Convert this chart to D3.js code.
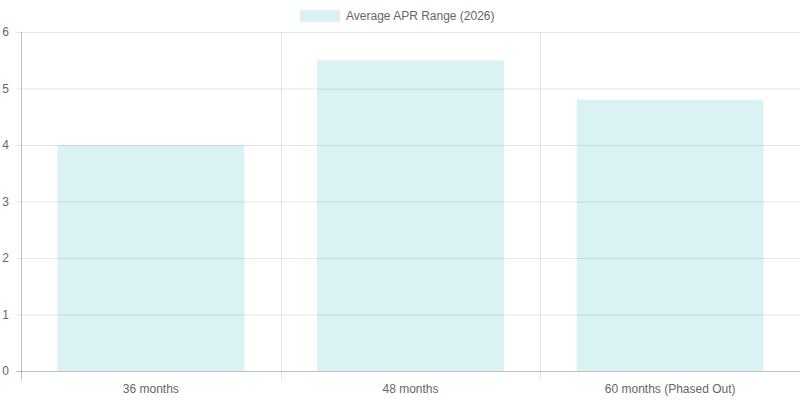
<!DOCTYPE html>
<html><head><meta charset="utf-8">
<script src="https://cdn.jsdelivr.net/npm/d3@7"></script>
<style>body{margin:0;background:#fff}text{font-family:"Liberation Sans",Arial,sans-serif;font-size:12px;fill:#666}</style>
</head><body><svg id="c" width="800" height="400"></svg>
<script>
const categories = ["36 months","48 months","60 months (Phased Out)"];
const values = [4.0, 5.5, 4.8];
const yTicks = [0,1,2,3,4,5,6];
const seriesName = "Average APR Range (2026)";

const svg = d3.select("#c");
const L=21,R=800,T=32,B=371;
const x = d3.scaleBand().domain(categories).range([L,R]);
const y = d3.scaleLinear().domain([0,6]).range([B,T]);
const grid="rgba(0,0,0,0.1)";

// horizontal grid
svg.selectAll(".hg").data(yTicks).join("line")
 .attr("x1",L-5).attr("x2",R).attr("y1",d=>y(d)+0.5).attr("y2",d=>y(d)+0.5)
 .attr("stroke",d=>d===0?"rgba(0,0,0,0.25)":grid);
// vertical grid
const vx=[L, ...categories.slice(1).map(c=>x(c)), R-0.5];
svg.selectAll(".vg").data(vx).join("line")
 .attr("x1",d=>Math.round(d)+0.5).attr("x2",d=>Math.round(d)+0.5).attr("y1",T).attr("y2",B+9)
 .attr("stroke",(d,i)=>i===0?"rgba(0,0,0,0.25)":grid);

svg.selectAll(".yl").data(yTicks).join("text")
 .attr("x",9).attr("y",d=>y(d)+4).attr("text-anchor","end").text(d=>d);

const bw = x.bandwidth()*0.72;
svg.selectAll(".bar").data(values).join("rect")
 .attr("x",(d,i)=>x(categories[i])+x.bandwidth()/2-bw/2).attr("width",bw)
 .attr("y",d=>y(d)).attr("height",d=>B-y(d))
 .attr("fill","rgba(75,192,192,0.2)");

svg.selectAll(".xl").data(categories).join("text")
 .attr("x",d=>x(d)+x.bandwidth()/2).attr("y",393).attr("text-anchor","middle").text(d=>d);

svg.append("rect").attr("x",300).attr("y",10).attr("width",40).attr("height",12).attr("fill","rgba(75,192,192,0.2)");
svg.append("text").attr("x",346).attr("y",20).text(seriesName);
</script></body></html>
